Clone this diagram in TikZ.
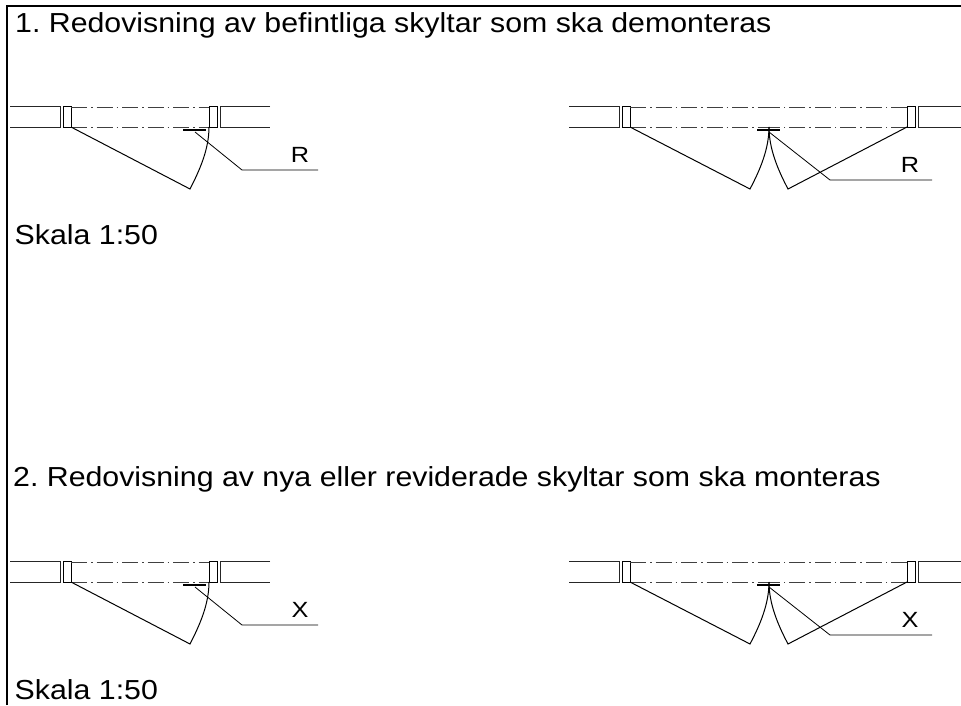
\documentclass[tikz,border=0pt]{standalone}
\usepackage{fontspec}
\setmainfont{Liberation Sans}
\frenchspacing
\tikzset{
  x=1pt,y=-1pt,
  wall/.style={line width=1pt,black!85},
  axisline/.style={line width=1pt,black!75,dash pattern=on 16pt off 4pt on 1.5pt off 4pt},
  leaf/.style={line width=1pt,black},
  sign/.style={line width=2pt,black},
  heading/.style={anchor=base west,inner sep=0pt,xscale=1.102,transform shape,font=\fontsize{27.5}{31}\selectfont},
  mark label/.style={anchor=base,inner sep=0pt,xscale=1.15,transform shape,font=\fontsize{22}{26}\selectfont},
  pics/single/.style={code={
    \draw[wall] (10,0)--(60,0)--(60,21)--(10,21);
    \draw[wall] (270,0)--(220,0)--(220,21)--(270,21);
    \draw[leaf] (63,0) rectangle (71,21);
    \draw[leaf] (209,0) rectangle (217,21);
    \draw[axisline] (71,1)--(209,1);
    \draw[axisline] (71,21)--(209,21);
    \draw[leaf] (71,21)--(190,83) .. controls (200,63.5) and (209,43) .. (209,21);
    \draw[sign] (183,24)--(206,24);
    \draw[leaf,line width=.8pt] (195,26)--(242,64)--(318,64);
    \node[mark label] at (300,56) {#1};
  }},
  pics/double/.style={code={
    \draw[wall] (569,0)--(619,0)--(619,21)--(569,21);
    \draw[wall] (961,0)--(918,0)--(918,21)--(961,21);
    \draw[leaf] (622,0) rectangle (630,21);
    \draw[leaf] (907,0) rectangle (915,21);
    \draw[axisline] (630,1)--(768.5,1);
    \draw[axisline] (907,1)--(768.5,1);
    \draw[axisline] (630,21)--(768.5,21);
    \draw[axisline] (907,21)--(768.5,21);
    \draw[leaf] (630,21)--(750,83) .. controls (760,64) and (769,43) .. (769,21);
    \draw[leaf] (907,21)--(788,83) .. controls (778,64) and (769,43) .. (769,21);
    \draw[sign] (757,24)--(780,24);
    \draw[leaf,line width=.8pt] (769,26)--(830,74)--(932,74);
    \node[mark label] at (910,66) {#1};
  }}
}
\begin{document}
\begin{tikzpicture}
\useasboundingbox (0,0) rectangle (961,705);
\fill[white] (0,0) rectangle (961,705);
\draw[line width=2pt,black] (7,705)--(7,5.5)--(961,5.5);
\node[heading] (t1) at (15,32) {1. Redovisning av befintliga skyltar som ska demonteras};
\node[heading] (s1) at (14.5,244) {Skala 1:50};
\node[heading] (t2) at (13,486) {2. Redovisning av nya eller reviderade skyltar som ska monteras};
\node[heading] (s2) at (14.5,699) {Skala 1:50};
\pic at (0,106) {single=R};
\pic at (0,106) {double=R};
\pic at (0,561) {single=X};
\pic at (0,561) {double=X};
\end{tikzpicture}
\end{document}
